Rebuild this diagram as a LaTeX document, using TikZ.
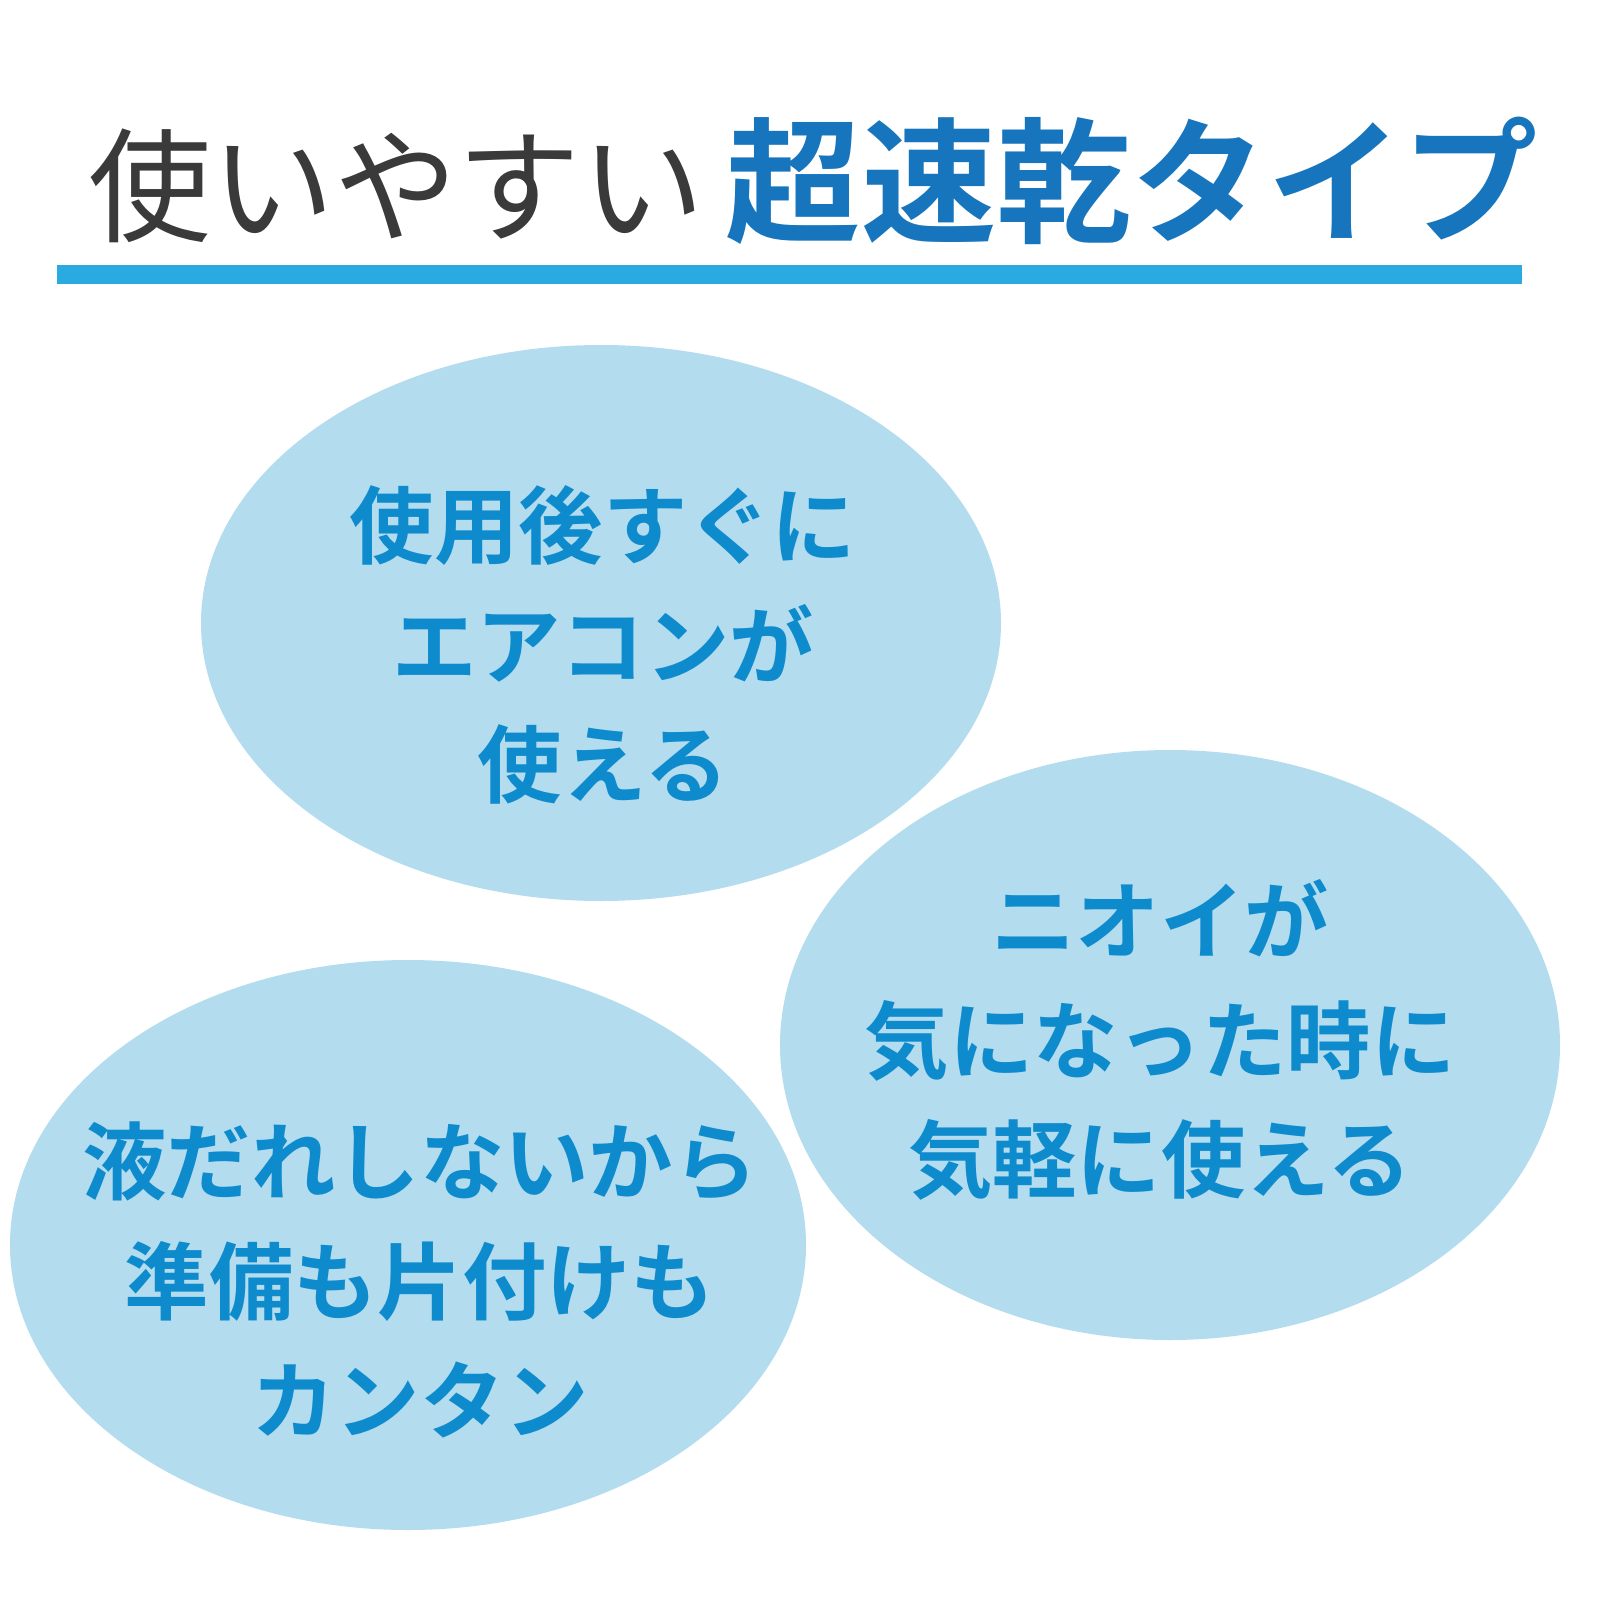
\documentclass[tikz,border=0pt]{standalone}
\usepackage{fontspec}
\newfontfamily\jp{Noto Sans CJK JP}
\newfontfamily\jpb{Noto Sans CJK JP Bold}
\definecolor{bar}{HTML}{29ABE2}
\definecolor{ell}{HTML}{B3DCEF}
\definecolor{txt}{HTML}{0E8BCD}
\definecolor{ttl}{HTML}{1775BD}
\definecolor{dk}{HTML}{3A3A3A}
\tikzset{blob/.style={fill=ell,draw=none},
 lbl/.style={text=txt,font=\jpb\fontsize{24}{34}\selectfont,align=center}}
\begin{document}
\begin{tikzpicture}[x=0.01cm,y=-0.01cm]
\useasboundingbox (0,0) rectangle (1600,1600);
\fill[white] (0,0) rectangle (1600,1600);
\node[anchor=base west,inner sep=0,text=dk,font=\jp\fontsize{35}{40}\selectfont] (t1) at (88,232) {使いやすい};
\node[anchor=base west,inner sep=0,text=ttl,font=\jpb\fontsize{38.5}{40}\selectfont] (t2) at (725,232) {超速乾タイプ};
\fill[bar] (57,265) rectangle (1522,284);
\fill[blob] (601,623) ellipse [x radius=400,y radius=278];
\fill[blob] (1170,1045) ellipse [x radius=390,y radius=295];
\fill[blob] (408,1245) ellipse [x radius=398,y radius=285];
\node[lbl] (a) at (603,645) {使用後すぐに\\エアコンが\\使える};
\node[lbl] (b) at (1160,1040) {ニオイが\\気になった時に\\気軽に使える};
\node[lbl] (c) at (420,1280) {液だれしないから\\準備も片付けも\\カンタン};
\end{tikzpicture}
\end{document}
